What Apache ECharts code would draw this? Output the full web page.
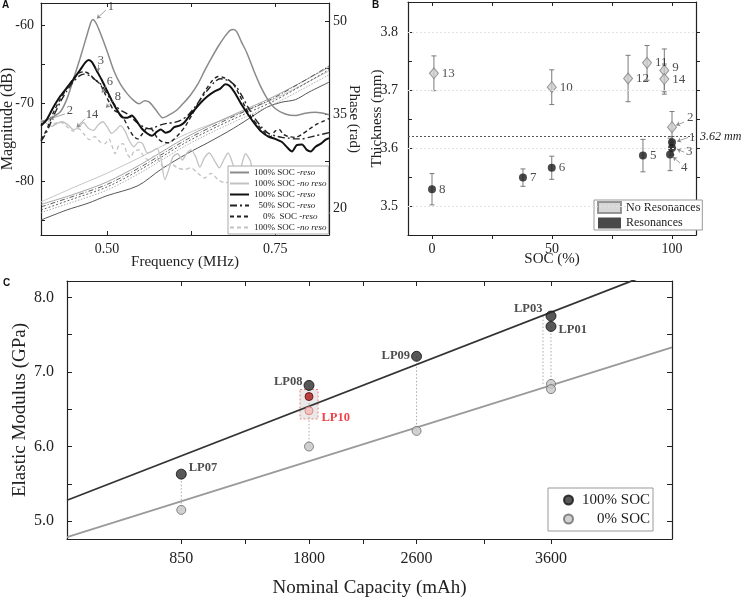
<!DOCTYPE html>
<html><head><meta charset="utf-8">
<script src="https://cdn.jsdelivr.net/npm/echarts@6/dist/echarts.min.js"></script>
<style>html,body{margin:0;padding:0;background:#fff}#c{width:742px;height:599px}</style>
</head><body><div id="c"></div>
<script>
// ================= Panel A: magnitude curves [frequency MHz, magnitude dB] =================
const magReso100a = [[0.402,-72.4],[0.415,-72.0],[0.43,-71.2],[0.44,-69.6],[0.45,-67.0],[0.46,-64.3],[0.47,-61.4],[0.476,-59.7],[0.479,-59.3],[0.484,-59.8],[0.49,-61.0],[0.50,-63.3],[0.51,-65.8],[0.52,-67.6],[0.53,-68.8],[0.54,-69.7],[0.548,-70.1],[0.556,-69.7],[0.563,-69.9],[0.572,-70.8],[0.583,-71.9],[0.593,-71.5],[0.604,-70.9],[0.614,-70.0],[0.624,-69.0],[0.635,-67.6],[0.645,-65.9],[0.655,-64.3],[0.665,-62.8],[0.675,-61.5],[0.683,-60.7],[0.688,-60.6],[0.693,-60.9],[0.70,-62.2],[0.708,-63.6],[0.718,-65.8],[0.728,-67.8],[0.738,-69.4],[0.75,-70.7],[0.765,-71.4],[0.78,-71.6],[0.795,-71.3],[0.81,-71.2],[0.83,-71.5]];
const magNoReso100a = [[0.402,-72.2],[0.41,-72.6],[0.418,-73.0],[0.426,-72.6],[0.434,-72.4],[0.442,-72.8],[0.45,-73.4],[0.458,-73.1],[0.465,-72.5],[0.472,-73.2],[0.48,-73.5],[0.487,-72.8],[0.494,-72.4],[0.50,-73.0],[0.507,-73.9],[0.514,-73.4],[0.52,-72.9],[0.527,-73.6],[0.533,-74.8],[0.54,-75.6],[0.547,-75.0],[0.553,-75.2],[0.56,-76.4],[0.567,-76.2],[0.574,-75.8],[0.58,-77.0],[0.586,-79.8],[0.592,-78.5],[0.598,-76.9],[0.605,-76.5],[0.612,-77.3],[0.618,-76.5],[0.625,-76.0],[0.632,-76.9],[0.638,-78.2],[0.645,-77.0],[0.652,-76.4],[0.66,-77.4],[0.667,-78.3],[0.674,-77.2],[0.68,-76.4],[0.687,-77.8],[0.693,-79.8],[0.70,-78.0],[0.706,-76.5],[0.713,-77.4],[0.72,-80.0],[0.727,-79.5],[0.734,-78.5],[0.742,-79.5],[0.75,-80.5],[0.76,-80.2],[0.77,-81.5],[0.78,-82.0],[0.79,-81.0],[0.80,-82.8],[0.81,-83.5],[0.815,-82.0],[0.82,-84.0],[0.825,-85.2],[0.83,-84.0]];
const magReso100b = [[0.402,-72.9],[0.41,-72.2],[0.42,-70.6],[0.43,-69.2],[0.44,-68.1],[0.45,-67.0],[0.46,-65.8],[0.468,-64.8],[0.473,-64.5],[0.478,-64.8],[0.485,-65.9],[0.492,-67.0],[0.50,-68.4],[0.508,-69.8],[0.515,-70.9],[0.522,-71.8],[0.53,-71.9],[0.537,-71.6],[0.544,-72.3],[0.552,-73.3],[0.56,-73.9],[0.567,-74.2],[0.574,-73.7],[0.58,-73.4],[0.587,-73.8],[0.594,-73.6],[0.60,-73.1],[0.608,-72.9],[0.615,-72.5],[0.622,-71.7],[0.63,-70.9],[0.64,-69.9],[0.65,-69.1],[0.66,-68.5],[0.668,-68.2],[0.676,-67.6],[0.682,-67.8],[0.69,-68.7],[0.70,-70.2],[0.71,-71.5],[0.72,-72.7],[0.73,-73.7],[0.74,-74.3],[0.75,-74.6],[0.76,-75.0],[0.768,-75.7],[0.775,-76.2],[0.782,-75.4],[0.79,-75.3],[0.797,-76.0],[0.803,-76.2],[0.81,-75.6],[0.818,-75.2],[0.825,-74.7],[0.83,-74.5]];
const magReso50 = [[0.402,-74.9],[0.41,-73.8],[0.42,-71.8],[0.43,-70.0],[0.44,-68.5],[0.45,-67.3],[0.458,-66.6],[0.466,-66.3],[0.474,-66.5],[0.482,-67.0],[0.49,-67.5],[0.498,-68.5],[0.506,-69.6],[0.514,-70.5],[0.522,-71.0],[0.53,-71.4],[0.538,-72.0],[0.546,-72.6],[0.555,-73.1],[0.563,-73.3],[0.571,-73.1],[0.58,-72.8],[0.59,-72.6],[0.60,-72.5],[0.61,-72.2],[0.62,-71.6],[0.63,-70.6],[0.64,-69.4],[0.65,-68.3],[0.66,-67.3],[0.668,-66.9],[0.676,-67.0],[0.684,-67.3],[0.692,-67.9],[0.70,-69.0],[0.71,-70.6],[0.72,-72.0],[0.73,-73.1],[0.74,-73.9],[0.75,-74.2],[0.76,-74.4],[0.77,-74.5],[0.78,-74.6],[0.79,-74.6],[0.80,-74.4],[0.81,-74.2],[0.82,-74.0],[0.83,-73.8]];
const magReso0 = [[0.402,-74.7],[0.41,-73.5],[0.42,-71.3],[0.43,-69.6],[0.44,-68.2],[0.45,-66.9],[0.458,-66.2],[0.466,-66.0],[0.474,-66.3],[0.482,-67.0],[0.49,-67.6],[0.497,-68.8],[0.504,-70.0],[0.51,-70.9],[0.518,-71.3],[0.525,-72.0],[0.532,-73.2],[0.54,-74.3],[0.546,-74.6],[0.553,-73.9],[0.56,-73.2],[0.567,-73.4],[0.575,-74.5],[0.583,-75.0],[0.592,-75.1],[0.60,-74.6],[0.608,-73.9],[0.617,-72.9],[0.627,-71.4],[0.637,-69.8],[0.647,-68.3],[0.657,-67.1],[0.665,-66.6],[0.672,-66.7],[0.68,-67.0],[0.688,-67.6],[0.697,-69.0],[0.706,-70.6],[0.715,-71.9],[0.725,-72.9],[0.735,-73.8],[0.743,-74.3],[0.75,-73.6],[0.756,-73.4],[0.762,-74.0],[0.77,-74.3],[0.78,-74.4],[0.79,-74.0],[0.80,-73.4],[0.81,-72.8],[0.82,-72.4],[0.83,-72.0]];
const magNoReso100b = [[0.402,-72.5],[0.41,-72.2],[0.42,-72.7],[0.43,-72.4],[0.44,-73.0],[0.45,-73.6],[0.458,-73.3],[0.466,-74.0],[0.474,-74.7],[0.482,-74.3],[0.49,-75.0],[0.497,-75.2],[0.503,-74.6],[0.508,-75.6],[0.512,-76.5],[0.518,-75.4],[0.524,-75.2],[0.53,-76.5],[0.535,-77.0],[0.54,-76.2],[0.548,-76.0],[0.555,-76.9],[0.562,-77.3],[0.57,-76.8],[0.578,-77.5],[0.585,-78.2],[0.595,-77.8],[0.605,-78.3],[0.615,-78.5],[0.625,-78.3],[0.635,-79.0],[0.645,-79.6],[0.655,-79.0],[0.665,-79.8],[0.675,-80.2],[0.69,-80.0],[0.70,-80.6],[0.72,-81.0],[0.74,-81.5],[0.76,-82.0],[0.78,-82.3],[0.80,-82.8],[0.83,-83.5]];

// Panel A: phase curves [frequency MHz, phase rad]
const phaseReso100a = [[0.402,18.1],[0.44,19.7],[0.472,20.8],[0.50,22.0],[0.546,23.6],[0.58,26.2],[0.62,28.8],[0.65,30.5],[0.688,32.8],[0.72,35.0],[0.738,36.2],[0.76,37.0],[0.78,37.4],[0.80,38.6],[0.83,40.2]];
const phaseNoReso100a = [[0.402,21.0],[0.45,23.3],[0.50,25.6],[0.55,28.2],[0.62,32.0],[0.68,34.5],[0.75,37.6],[0.83,42.0]];
const phaseReso100b = [[0.402,20.6],[0.45,22.2],[0.50,24.2],[0.55,27.0],[0.62,31.5],[0.68,34.6],[0.75,38.0],[0.83,42.6]];
const phaseReso50 = [[0.402,20.2],[0.45,21.9],[0.50,23.8],[0.55,26.6],[0.62,31.1],[0.68,34.3],[0.75,37.8],[0.83,42.8]];
const phaseReso0 = [[0.402,19.7],[0.45,21.5],[0.50,23.4],[0.55,26.2],[0.62,30.7],[0.68,33.9],[0.75,37.3],[0.83,42.2]];
const phaseNoReso100b = [[0.402,19.3],[0.45,21.0],[0.50,22.9],[0.55,25.7],[0.62,30.2],[0.68,33.4],[0.75,36.8],[0.83,41.4]];

const freqLabels = [0.5, 0.75];
const freqTicks = [0.5, 0.625, 0.75];
const magLabels = [-80, -70, -60];
const magTicks = [-85, -80, -75, -70, -65, -60];
const phaseLabels = [20, 35, 50];
const phaseTicks = [20, 27.5, 35, 42.5, 50];

// Panel A annotations (sample numbers)
const annotAText = ['1', '2', '3', '6', '8', '14'];
const annotAAt = [[0.506,-57.7],[0.445,-71.0],[0.491,-64.6],[0.5045,-67.3],[0.5164,-69.2],[0.4777,-71.5]];
const annotAFrom = [[0.4985,-58.1],[0.4375,-71.4],[0.4866,-65.1],[0.4985,-67.8],[0.509,-69.7],[0.467,-72.05]];
const annotATo = [[0.485,-59.2],[0.415,-72.05],[0.4866,-66.0],[0.4926,-68.7],[0.4985,-70.6],[0.455,-73.1]];

// ================= Panel B: thickness vs SOC =================
const noResId  = ['13', '10', '12', '11', '9', '14', '2'];
const noResSoc = [0.8, 49.9, 81.7, 89.6, 96.8, 96.8, 100];
const noResThk = [3.729, 3.705, 3.720, 3.747, 3.734, 3.719, 3.636];
const noResErr = [0.030, 0.030, 0.040, 0.030, 0.037, 0.026, 0.027];
const resId  = ['8', '7', '6', '5', '1', '3', '4'];
const resSoc = [0, 37.9, 49.9, 87.9, 100, 100, 99.2];
const resThk = [3.529, 3.549, 3.566, 3.587, 3.610, 3.600, 3.589];
const resErr = [0.027, 0.015, 0.020, 0.028, 0.010, 0.012, 0.028];
const refThickness = 3.62;
const socLabels = [0, 50, 100];
const socTicks = [0, 25, 50, 75, 100];
const thkLabels = [3.5, 3.6, 3.7, 3.8];
const thkTicks = [3.5, 3.55, 3.6, 3.65, 3.7, 3.75, 3.8];

// ================= Panel C: elastic modulus vs capacity =================
const cellNames = ['LP07', 'LP08', 'LP09', 'LP03', 'LP01'];
const cellCapacity = [850, 1800, 2600, 3600, 3600];
const modulus100 = [5.63, 6.82, 7.21, 7.75, 7.61];
const modulus0 = [5.15, 6.00, 6.21, 6.84, 6.77];
const lp10Capacity = 1800;
const lp10Modulus100 = 6.67;
const lp10Modulus0 = 6.48;
const fitX = [0, 4500];
const fit100 = [5.28, 8.43];
const fit0 = [4.785, 7.33];
const capLabels = [850, 1800, 2600, 3600];
const capTicks = [850, 1325, 1800, 2200, 2600, 3100, 3600];
const modLabels = [5, 6, 7, 8];
const modTicks = [5, 5.5, 6, 6.5, 7, 7.5, 8];

// ================= styling =================
const F = 'Liberation Serif';
const INK = '#222';
const AX = {show: true, onZero: false, lineStyle: {color: '#222', width: 1.2}};

function axis(o) {
  const a = {
    type: 'value', gridIndex: o.grid, position: o.pos, min: o.min, max: o.max,
    nameMoveOverlap: false,
    axisLine: AX,
    axisTick: {show: true, inside: o.inside, length: o.len || 4, customValues: o.ticks, lineStyle: {color: '#222', width: 1}},
    axisLabel: o.labels ? {show: true, customValues: o.labels, formatter: o.fmt, fontFamily: F, fontSize: o.fs, color: INK, margin: o.margin} : {show: false},
    splitLine: {show: false}
  };
  if (o.name) {
    a.name = o.name; a.nameLocation = 'middle'; a.nameGap = o.gap;
    a.nameTextStyle = {fontFamily: F, fontSize: o.nfs, color: INK};
    if (o.rot !== undefined) a.nameRotate = o.rot;
  }
  return a;
}

const xAxes = [
  axis({grid: 0, pos: 'bottom', min: 0.402, max: 0.83, ticks: freqTicks, inside: true, labels: freqLabels, fmt: v => (+v).toFixed(2), fs: 14, margin: 7, name: 'Frequency (MHz)', gap: 20, nfs: 15}),
  axis({grid: 0, pos: 'top', min: 0.402, max: 0.83, ticks: freqTicks, inside: true}),
  axis({grid: 1, pos: 'bottom', min: -10, max: 110, ticks: socTicks, inside: false, labels: socLabels, fmt: v => String(v), fs: 14, margin: 7, name: 'SOC (%)', gap: 17, nfs: 15}),
  axis({grid: 1, pos: 'top', min: -10, max: 110, ticks: socTicks, inside: true}),
  axis({grid: 2, pos: 'bottom', min: 0, max: 4500, ticks: capTicks, inside: false, len: 5, labels: capLabels, fmt: v => String(v), fs: 16, margin: 12, name: 'Nominal Capacity (mAh)', gap: 40, nfs: 19}),
  axis({grid: 2, pos: 'top', min: 0, max: 4500, ticks: capTicks, inside: true, len: 5})
];
const yAxes = [
  axis({grid: 0, pos: 'left', min: -86.9, max: -57.2, ticks: magTicks, inside: true, labels: magLabels, fmt: v => String(v), fs: 14, margin: 7, name: 'Magnitude (dB)', gap: 25, nfs: 16}),
  axis({grid: 0, pos: 'right', min: 15.7, max: 52.9, ticks: phaseTicks, inside: true, labels: phaseLabels, fmt: v => String(v), fs: 14, margin: 4, name: 'Phase (rad)', gap: 17, nfs: 15, rot: -90}),
  axis({grid: 1, pos: 'left', min: 3.45, max: 3.852, ticks: thkTicks, inside: true, labels: thkLabels, fmt: v => (+v).toFixed(1), fs: 14, margin: 10, name: 'Thickness (mm)', gap: 23, nfs: 15}),
  axis({grid: 1, pos: 'right', min: 3.45, max: 3.852, ticks: thkTicks, inside: false}),
  axis({grid: 2, pos: 'left', min: 4.76, max: 8.22, ticks: modTicks, inside: true, len: 5, labels: modLabels, fmt: v => (+v).toFixed(1), fs: 16, margin: 13, name: 'Elastic Modulus (GPa)', gap: 37, nfs: 19}),
  axis({grid: 2, pos: 'right', min: 4.76, max: 8.22, ticks: modTicks, inside: true, len: 5})
];

// ---------- series ----------
const series = [];
function phaseLine(data, color, width, type) {
  return {type: 'line', xAxisIndex: 0, yAxisIndex: 1, data, symbol: 'none', smooth: 0.3, silent: true,
    lineStyle: {color, width, type}, z: 1};
}
series.push(phaseLine(phaseReso100a, '#555', 1.0, 'solid'));
series.push(phaseLine(phaseNoReso100a, '#c6c6c6', 1.0, 'solid'));
series.push(phaseLine(phaseReso100b, '#9a9a9a', 0.9, 'solid'));
series.push(phaseLine(phaseReso50, '#333', 0.8, [5, 2, 1, 2]));
series.push(phaseLine(phaseReso0, '#333', 0.8, [2, 2]));
series.push(phaseLine(phaseNoReso100b, '#999', 0.8, [1.5, 1.5]));

const magSpecs = [
  ['A2', magNoReso100a, '#c2c2c2', 1.3, 'solid'],
  ['A6', magNoReso100b, '#c2c2c2', 1.3, [4, 3]],
  ['A1', magReso100a, '#8a8a8a', 1.5, 'solid'],
  ['A4', magReso50, '#222', 1.4, [7, 3, 2, 3]],
  ['A5', magReso0, '#222', 1.4, [4, 3]],
  ['A3', magReso100b, '#111', 2.0, 'solid']
];
magSpecs.forEach(s => series.push({
  name: s[0], type: 'line', xAxisIndex: 0, yAxisIndex: 0, data: s[1], symbol: 'none', smooth: 0.25,
  lineStyle: {color: s[2], width: s[3], type: s[4]}, itemStyle: {color: s[2]}, z: 2
}));

// Panel A annotation numbers + leader arrows
series.push({
  type: 'scatter', xAxisIndex: 0, yAxisIndex: 0, symbolSize: 1, itemStyle: {color: 'rgba(0,0,0,0)'}, silent: true, z: 5,
  data: annotAText.map((t, i) => ({name: t, value: annotAAt[i]})),
  label: {show: true, position: 'inside', formatter: '{b}', fontFamily: F, fontSize: 12.5, color: INK},
  markLine: {silent: true, symbol: ['none', 'arrow'], symbolSize: 4, animation: false,
    lineStyle: {color: '#8a8a8a', width: 0.8, type: 'solid'}, label: {show: false},
    data: annotAFrom.map((p, i) => [{coord: p}, {coord: annotATo[i]}])}
});

// Panel B error bars
function renderErr(params, api) {
  const x = api.value(0), y = api.value(1), e = api.value(2);
  const p1 = api.coord([x, y + e]), p2 = api.coord([x, y - e]);
  const st = {stroke: '#7a7a7a', lineWidth: 1};
  return {type: 'group', children: [
    {type: 'line', shape: {x1: p1[0], y1: p1[1], x2: p2[0], y2: p2[1]}, style: st},
    {type: 'line', shape: {x1: p1[0] - 2.5, y1: p1[1], x2: p1[0] + 2.5, y2: p1[1]}, style: st},
    {type: 'line', shape: {x1: p2[0] - 2.5, y1: p2[1], x2: p2[0] + 2.5, y2: p2[1]}, style: st}
  ]};
}
const errData = noResSoc.map((s, i) => [s, noResThk[i], noResErr[i]])
  .concat(resSoc.map((s, i) => [s, resThk[i], resErr[i]]));
series.push({type: 'custom', xAxisIndex: 2, yAxisIndex: 2, renderItem: renderErr, data: errData,
  encode: {x: 0, y: 1}, silent: true, z: 2});

// label offsets for panel B numbers (pixels)
const noResLabelOff = {'9': [0, -3], '2': [7, -10]};
const resLabelOff = {'1': [10, -5], '3': [7, 4], '4': [4, 13]};
const numLabel = {show: true, position: 'right', distance: 3, formatter: '{b}', fontFamily: F, fontSize: 13, color: INK};

series.push({
  name: 'No Resonances', type: 'scatter', xAxisIndex: 2, yAxisIndex: 2, symbol: 'diamond', symbolSize: [9, 11],
  itemStyle: {color: '#cdcdcd', borderColor: '#808080', borderWidth: 1}, z: 4,
  data: noResSoc.map((s, i) => ({name: noResId[i], value: [s, noResThk[i]],
    label: Object.assign({}, numLabel, {offset: noResLabelOff[noResId[i]] || [0, 0]})})),
  markLine: {silent: true, symbol: ['none', 'none'], animation: false,
    data: thkLabels.map(v => ({yAxis: v, lineStyle: {color: '#e2e2e2', type: [2, 2], width: 1}, label: {show: false}}))
      .concat([{yAxis: refThickness, lineStyle: {color: '#555', type: [2, 2], width: 1},
        label: {show: true, position: 'end', distance: 4, formatter: refThickness.toFixed(2) + ' mm',
          fontFamily: F, fontStyle: 'italic', fontSize: 12, color: INK}}])}
});
series.push({
  name: 'Resonances', type: 'scatter', xAxisIndex: 2, yAxisIndex: 2, symbol: 'circle', symbolSize: 8,
  itemStyle: {color: '#1c1c1c'}, z: 4,
  data: resSoc.map((s, i) => ({name: resId[i], value: [s, resThk[i]],
    label: Object.assign({}, numLabel, {offset: resLabelOff[resId[i]] || [0, 0]})})),
  markLine: {silent: true, symbol: ['arrow', 'none'], symbolSize: 4, animation: false,
    lineStyle: {color: '#888', width: 0.8, type: 'solid'}, label: {show: false},
    data: [
      [{coord: [101.7, 3.6395]}, {coord: [105, 3.6446]}],
      [{coord: [102.1, 3.6115]}, {coord: [106.7, 3.6183]}],
      [{coord: [102.1, 3.598]}, {coord: [105, 3.593]}],
      [{coord: [100.4, 3.5846]}, {coord: [103.3, 3.5743]}]
    ]}
});

// Panel C: dotted connectors
const connOffset = [0, 0, 0, -8, 0];
function renderConn(params, api) {
  const x = api.value(0), a = api.value(1), b = api.value(2), off = connOffset[params.dataIndex] || 0;
  const p1 = api.coord([x, a]), p2 = api.coord([x, b]);
  return {type: 'line', shape: {x1: p1[0] + off, y1: p1[1], x2: p2[0] + off, y2: p2[1]},
    style: {stroke: '#aaa', lineWidth: 1, lineDash: [1.5, 2]}};
}
series.push({type: 'custom', xAxisIndex: 4, yAxisIndex: 4, renderItem: renderConn, silent: true, z: 1,
  data: cellCapacity.map((c, i) => [c, modulus100[i], modulus0[i]]), encode: {x: 0, y: [1, 2]}});

series.push({type: 'line', xAxisIndex: 4, yAxisIndex: 4, symbol: 'none', silent: true, z: 2,
  data: fitX.map((x, i) => [x, fit100[i]]), lineStyle: {color: '#333', width: 1.8}});
series.push({type: 'line', xAxisIndex: 4, yAxisIndex: 4, symbol: 'none', silent: true, z: 2,
  data: fitX.map((x, i) => [x, fit0[i]]), lineStyle: {color: '#9a9a9a', width: 1.8}});

const lpLabelSide = {LP07: ['right', [0, -6], 2], LP08: ['left', [0, -4], 1], LP09: ['left', [0, -1], 1], LP03: ['left', [0, -7], 3], LP01: ['right', [0, 3], 2]};
series.push({
  name: '100% SOC', type: 'scatter', xAxisIndex: 4, yAxisIndex: 4, symbolSize: 10, z: 4,
  itemStyle: {color: '#2e2e2e', borderColor: '#111', borderWidth: 1},
  data: cellCapacity.map((c, i) => ({name: cellNames[i], value: [c, modulus100[i]],
    label: {show: true, formatter: '{b}', position: lpLabelSide[cellNames[i]][0], offset: lpLabelSide[cellNames[i]][1],
      distance: lpLabelSide[cellNames[i]][2], fontFamily: F, fontWeight: 'bold', fontSize: 12.5, color: INK}}))
});
series.push({
  name: '0% SOC', type: 'scatter', xAxisIndex: 4, yAxisIndex: 4, symbolSize: 9, z: 4,
  itemStyle: {color: '#c6c6c6', borderColor: '#6a6a6a', borderWidth: 1},
  data: cellCapacity.map((c, i) => [c, modulus0[i]])
});
series.push({
  type: 'scatter', xAxisIndex: 4, yAxisIndex: 4, symbolSize: 8, z: 5, silent: true,
  data: [
    {value: [lp10Capacity, lp10Modulus100], itemStyle: {color: '#b01818', borderColor: '#5a0a0a', borderWidth: 1}},
    {name: 'LP10', value: [lp10Capacity, lp10Modulus0], itemStyle: {color: '#f4bcbc', borderColor: '#e07070', borderWidth: 1},
      label: {show: true, formatter: '{b}', position: 'right', distance: 8, offset: [0, 7], fontFamily: F, fontWeight: 'bold', fontSize: 12.5, color: '#e8141c'}}
  ],
  markArea: {silent: true, itemStyle: {color: 'rgba(215,215,215,0.55)', borderColor: '#f08080', borderWidth: 1, borderType: [2, 2]},
    data: [[{coord: [lp10Capacity - 67, lp10Modulus100 + 0.095]}, {coord: [lp10Capacity + 67, lp10Modulus0 - 0.11]}]]}
});

// ---------- legends ----------
const legendATexts = {
  A1: ['100% SOC ', '-reso'], A2: ['100% SOC ', '-no reso'], A3: ['100% SOC ', '-reso'],
  A4: ['  50% SOC ', '-reso'], A5: ['    0%  SOC ', '-reso'], A6: ['100% SOC ', '-no reso']
};

const option = {
  animation: false,
  backgroundColor: '#fff',
  title: [
    {text: 'A', left: 2, top: 0, padding: 0, textStyle: {fontFamily: 'Liberation Sans', fontWeight: 'bold', fontSize: 10, color: '#111'}},
    {text: 'B', left: 372, top: 0, padding: 0, textStyle: {fontFamily: 'Liberation Sans', fontWeight: 'bold', fontSize: 10, color: '#111'}},
    {text: 'C', left: 3, top: 278, padding: 0, textStyle: {fontFamily: 'Liberation Sans', fontWeight: 'bold', fontSize: 10, color: '#111'}}
  ],
  grid: [
    {left: 41, top: 3, width: 288, height: 232, outerBoundsMode: 'none', containLabel: false},
    {left: 408, top: 2, width: 288, height: 233, outerBoundsMode: 'none', containLabel: false},
    {left: 67, top: 281, width: 605, height: 258, outerBoundsMode: 'none', containLabel: false}
  ],
  xAxis: xAxes,
  yAxis: yAxes,
  legend: [
    {data: ['A1', 'A2', 'A3', 'A4', 'A5', 'A6'], left: 228, top: 166, orient: 'vertical', selectedMode: false,
      itemWidth: 19, itemHeight: 9, itemGap: 2, padding: [2, 2, 2, 1], backgroundColor: '#fff',
      borderColor: '#aaa', borderWidth: 1, itemStyle: {opacity: 0},
      formatter: n => '{n|' + legendATexts[n][0] + '}{i|' + legendATexts[n][1] + '}',
      textStyle: {fontFamily: F, fontSize: 9, lineHeight: 9, color: INK,
        rich: {n: {fontFamily: F, fontSize: 9, lineHeight: 9, color: INK}, i: {fontFamily: F, fontSize: 9, lineHeight: 9, fontStyle: 'italic', color: INK}}}},
    {data: ['No Resonances', 'Resonances'], left: 594, top: 200, orient: 'vertical', selectedMode: false, icon: 'rect',
      itemWidth: 23, itemHeight: 11, itemGap: 3, padding: [1, 2, 1, 3], backgroundColor: '#fff',
      borderColor: '#999', borderWidth: 1,
      textStyle: {fontFamily: F, fontSize: 12, lineHeight: 12, color: INK}},
    {data: ['100% SOC', '0% SOC'], left: 548, top: 488, orient: 'vertical', selectedMode: false, icon: 'circle',
      itemWidth: 9, itemHeight: 9, itemGap: 3, padding: [4, 3, 4, 15], backgroundColor: '#fff',
      borderColor: '#999', borderWidth: 1,
      formatter: n => '{r|' + n + '}',
      textStyle: {fontFamily: F, fontSize: 15, lineHeight: 16, color: INK,
        rich: {r: {fontFamily: F, fontSize: 15, lineHeight: 16, width: 72, align: 'right', color: INK}}}}
  ],
  series
};

const chart = echarts.init(document.getElementById('c'), null, {renderer: 'canvas'});
chart.setOption(option);
</script>
</body></html>
